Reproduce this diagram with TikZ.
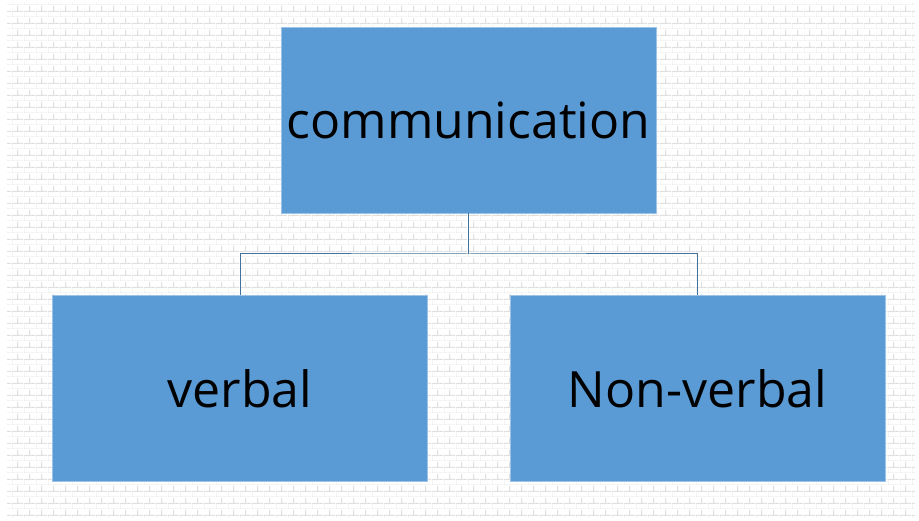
\documentclass[tikz,border=0pt]{standalone}
\usepackage{fontspec}
\setmainfont{Open Sans}
\usetikzlibrary{patterns.meta}

\definecolor{boxblue}{HTML}{5B9BD5}
\definecolor{lineblue}{HTML}{41719C}
\definecolor{mortar}{HTML}{E0E0E0}

\tikzdeclarepattern{name=brickwall, type=uncolored,
  bounding box={(0pt,0pt) and (12pt,12pt)}, tile size={(12pt,12pt)},
  code={
    \draw[line width=1pt] (0pt,0pt) -- (12pt,0pt);
    \draw[line width=1pt] (0pt,6pt) -- (12pt,6pt);
    \draw[line width=1pt] (0pt,0pt) -- (0pt,6pt);
    \draw[line width=1pt] (6pt,6pt) -- (6pt,12pt);
  }}

\begin{document}
\begin{tikzpicture}[x=1pt, y=1pt]
	\tikzstyle{topicStyle}=[rectangle, fill=boxblue, draw=boxblue!60!white, line width=0.6pt, inner sep=0pt, outer sep=0pt, minimum width=375pt, minimum height=186pt, font=\fontsize{50}{60}\selectfont, text=black]
	\tikzstyle{linkStyle}=[draw=lineblue, line width=1pt]
	\useasboundingbox (0,0) rectangle (919,521);
	\fill[white] (0,0) rectangle (919,521);
	\fill[pattern={brickwall}, pattern color=mortar] (7,3) rectangle (915,518);
	\node[topicStyle] (comm) at (468.5,401) {communication};
	\node[topicStyle] (verb) at (240,132.5) {verbal};
	\node[topicStyle] (nonverb) at (697.5,132.5) {Non-verbal};
	\coordinate (split) at (468.5,267);
	\draw[linkStyle] (comm.south) -- (split);
	\draw[linkStyle] (verb.north) |- (split) -| (nonverb.north);
\end{tikzpicture}
\end{document}
